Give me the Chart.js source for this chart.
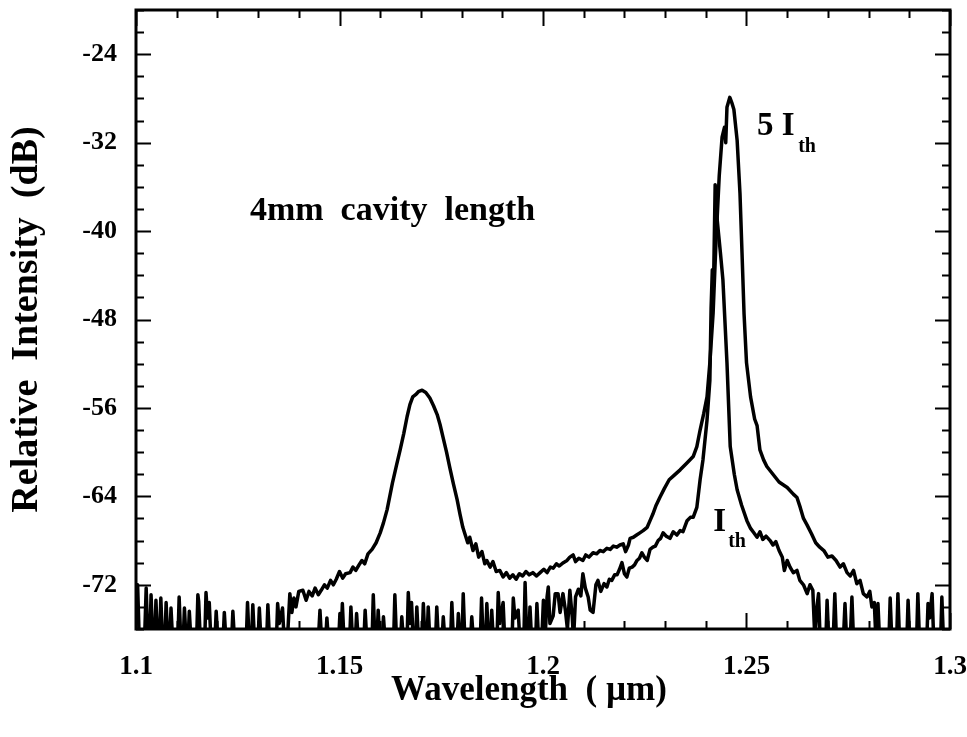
<!DOCTYPE html>
<html>
<head>
<meta charset="utf-8">
<script src="https://cdn.jsdelivr.net/npm/chart.js@4.4.1/dist/chart.umd.min.js"></script>
<style>
  html, body { margin: 0; padding: 0; background: #fff; }
  canvas { display: block; }
</style>
</head>
<body>
<canvas id="spectrum" width="967" height="737"></canvas>
<script>
// spectrum at 5 I_th : [wavelength (um), relative intensity (dB)]
// -77 = below the noise floor (clipped at the axis)
const spec5Ith = [
  [1.1000, -72.0], [1.1004, -72.0], [1.1008, -77], [1.1021, -77], [1.1025, -72.3], [1.1029, -77],
  [1.1034, -77], [1.1037, -72.9], [1.1041, -77], [1.1046, -77], [1.1049, -73.4], [1.1053, -77],
  [1.1058, -77], [1.1061, -73.2], [1.1065, -77], [1.1071, -77], [1.1074, -73.6], [1.1078, -77],
  [1.1083, -77], [1.1086, -74.1], [1.1090, -77], [1.1103, -77], [1.1106, -73.1], [1.1110, -77],
  [1.1116, -77], [1.1119, -74.1], [1.1123, -77], [1.1128, -77], [1.1131, -74.4], [1.1135, -77],
  [1.1149, -77], [1.1152, -72.9], [1.1154, -73.5], [1.1158, -77], [1.1169, -77], [1.1172, -72.7],
  [1.1176, -75.0], [1.1180, -73.6], [1.1184, -77], [1.1194, -77], [1.1197, -74.4], [1.1201, -77],
  [1.1214, -77], [1.1217, -74.5], [1.1221, -77], [1.1235, -77], [1.1238, -74.4], [1.1242, -77],
  [1.1271, -77], [1.1274, -73.6], [1.1278, -77], [1.1284, -77], [1.1287, -73.8], [1.1291, -77],
  [1.1300, -77], [1.1303, -74.1], [1.1307, -77], [1.1321, -77], [1.1324, -73.8], [1.1328, -77],
  [1.1345, -77], [1.1348, -73.7], [1.1352, -75.5], [1.1360, -74.1], [1.1364, -77], [1.1372, -77],
  [1.1378, -72.8], [1.1383, -74.5], [1.1388, -73.2], [1.1393, -74.0], [1.1400, -72.6], [1.1410, -72.5],
  [1.1418, -73.4], [1.1425, -72.6], [1.1433, -73.0], [1.1440, -72.3], [1.1448, -72.9], [1.1455, -72.5],
  [1.1463, -72.0], [1.1470, -72.3], [1.1478, -71.6], [1.1485, -72.0], [1.1492, -71.5], [1.1500, -70.8],
  [1.1508, -71.4], [1.1515, -71.0], [1.1526, -70.9], [1.1533, -70.4], [1.1540, -70.7], [1.1548, -70.2],
  [1.1555, -69.8], [1.1562, -70.1], [1.1570, -69.2], [1.1580, -68.8], [1.1590, -68.2], [1.1600, -67.3],
  [1.1608, -66.4], [1.1617, -65.2], [1.1630, -62.8], [1.1640, -61.2], [1.1649, -59.8], [1.1658, -58.3],
  [1.1666, -56.8], [1.1673, -55.7], [1.1680, -55.0], [1.1687, -54.8], [1.1695, -54.5], [1.1703, -54.4],
  [1.1712, -54.6], [1.1722, -55.1], [1.1731, -55.8], [1.1740, -56.6], [1.1747, -57.5], [1.1754, -58.6],
  [1.1763, -60.0], [1.1771, -61.4], [1.1780, -62.9], [1.1789, -64.3], [1.1796, -65.6], [1.1803, -66.8],
  [1.1809, -67.5], [1.1815, -68.2], [1.1820, -67.7], [1.1828, -68.9], [1.1835, -68.3], [1.1842, -69.5],
  [1.1850, -69.0], [1.1857, -70.1], [1.1862, -69.8], [1.1870, -70.4], [1.1877, -69.9], [1.1885, -70.8],
  [1.1894, -70.7], [1.1902, -71.3], [1.1910, -70.9], [1.1918, -71.4], [1.1926, -71.1], [1.1934, -71.5],
  [1.1942, -71.0], [1.1950, -71.2], [1.1958, -70.8], [1.1966, -71.1], [1.1975, -70.9], [1.1984, -71.2],
  [1.1993, -70.9], [1.2002, -70.6], [1.2010, -70.9], [1.2018, -70.4], [1.2025, -70.5], [1.2033, -70.1],
  [1.2040, -70.3], [1.2050, -70.0], [1.2059, -69.8], [1.2066, -69.5], [1.2074, -69.3], [1.2080, -69.9],
  [1.2088, -69.6], [1.2098, -69.8], [1.2105, -69.3], [1.2113, -69.5], [1.2123, -69.1], [1.2132, -69.2],
  [1.2140, -68.9], [1.2148, -69.0], [1.2157, -68.7], [1.2165, -68.8], [1.2173, -68.5], [1.2181, -68.6],
  [1.2189, -68.4], [1.2197, -68.3], [1.2203, -69.0], [1.2210, -68.4], [1.2214, -67.8], [1.2222, -67.7],
  [1.2230, -67.5], [1.2238, -67.3], [1.2246, -67.1], [1.2256, -66.8], [1.2263, -66.2], [1.2270, -65.6],
  [1.2278, -64.8], [1.2287, -64.1], [1.2298, -63.3], [1.2310, -62.5], [1.2322, -62.1], [1.2337, -61.6],
  [1.2353, -61.0], [1.2369, -60.4], [1.2378, -59.5], [1.2386, -58.0], [1.2395, -56.5], [1.2403, -55.0],
  [1.2410, -51.9], [1.2418, -47.4], [1.2425, -41.0], [1.2433, -35.0], [1.2440, -31.5], [1.2446, -30.6],
  [1.2449, -32.0], [1.2452, -28.8], [1.2459, -27.9], [1.2464, -28.4], [1.2469, -29.0], [1.2477, -31.8],
  [1.2484, -36.6], [1.2489, -42.0], [1.2494, -47.5], [1.2500, -51.9], [1.2510, -55.0], [1.2520, -57.0],
  [1.2526, -57.6], [1.2533, -59.8], [1.2542, -60.7], [1.2550, -61.3], [1.2565, -62.0], [1.2580, -62.7],
  [1.2600, -63.2], [1.2615, -63.8], [1.2624, -64.1], [1.2632, -65.0], [1.2640, -66.0], [1.2649, -66.6],
  [1.2660, -67.4], [1.2670, -68.2], [1.2680, -68.6], [1.2690, -68.9], [1.2700, -69.5], [1.2710, -69.4],
  [1.2720, -69.8], [1.2730, -70.4], [1.2738, -70.1], [1.2747, -70.9], [1.2755, -71.2], [1.2763, -70.7],
  [1.2771, -71.9], [1.2779, -71.6], [1.2787, -72.8], [1.2796, -73.1], [1.2803, -72.6], [1.2808, -74.0],
  [1.2814, -73.6], [1.2818, -77], [1.2823, -73.7], [1.2827, -77], [1.2850, -77], [1.2853, -73.2],
  [1.2857, -77], [1.2869, -77], [1.2872, -72.8], [1.2876, -77], [1.2894, -77], [1.2897, -73.4],
  [1.2901, -77], [1.2918, -77], [1.2921, -72.8], [1.2925, -77], [1.2943, -77], [1.2946, -73.7],
  [1.2950, -75.0], [1.2956, -72.8], [1.2960, -77], [1.2977, -77], [1.2980, -73.1], [1.2984, -77]
];

// spectrum at I_th
const specIth = [
  [1.1000, -77], [1.1448, -77], [1.1452, -74.3], [1.1456, -77], [1.1466, -77], [1.1469, -75.0],
  [1.1473, -77], [1.1498, -77], [1.1501, -74.6], [1.1504, -77], [1.1507, -73.7], [1.1511, -77],
  [1.1525, -77], [1.1528, -74.0], [1.1532, -77], [1.1539, -77], [1.1542, -74.6], [1.1546, -77],
  [1.1560, -77], [1.1563, -74.3], [1.1567, -77], [1.1580, -77], [1.1583, -72.9], [1.1587, -77],
  [1.1592, -77], [1.1595, -74.3], [1.1599, -77], [1.1605, -77], [1.1608, -74.9], [1.1612, -77],
  [1.1633, -77], [1.1636, -72.9], [1.1640, -77], [1.1650, -77], [1.1653, -74.9], [1.1657, -77],
  [1.1666, -77], [1.1669, -72.7], [1.1673, -75.5], [1.1677, -73.6], [1.1681, -77], [1.1687, -77],
  [1.1690, -74.0], [1.1694, -77], [1.1703, -77], [1.1706, -73.7], [1.1710, -77], [1.1715, -77],
  [1.1718, -74.0], [1.1722, -77], [1.1736, -77], [1.1739, -74.0], [1.1743, -77], [1.1752, -77],
  [1.1755, -74.9], [1.1759, -77], [1.1773, -77], [1.1776, -73.6], [1.1780, -77], [1.1789, -77],
  [1.1792, -74.6], [1.1796, -77], [1.1801, -77], [1.1804, -72.8], [1.1808, -77], [1.1822, -77],
  [1.1825, -74.9], [1.1829, -77], [1.1846, -77], [1.1849, -73.2], [1.1853, -77], [1.1859, -77],
  [1.1862, -73.7], [1.1866, -77], [1.1871, -77], [1.1874, -74.3], [1.1878, -77], [1.1887, -77],
  [1.1890, -72.7], [1.1894, -75.5], [1.1902, -73.6], [1.1906, -77], [1.1924, -77], [1.1927, -73.2],
  [1.1931, -75.0], [1.1939, -74.3], [1.1943, -77], [1.1953, -77], [1.1956, -71.8], [1.1960, -77],
  [1.1965, -77], [1.1968, -74.0], [1.1972, -77], [1.1982, -77], [1.1985, -73.7], [1.1989, -77],
  [1.1997, -77], [1.2001, -73.4], [1.2005, -77], [1.2010, -73.1], [1.2013, -72.2], [1.2017, -75.5],
  [1.2025, -74.8], [1.2030, -72.8], [1.2037, -72.8], [1.2042, -74.5], [1.2049, -72.8], [1.2055, -74.3],
  [1.2060, -76.0], [1.2066, -72.5], [1.2072, -75.0], [1.2075, -77], [1.2080, -73.1], [1.2087, -72.4],
  [1.2093, -73.0], [1.2098, -71.0], [1.2104, -72.3], [1.2111, -73.1], [1.2116, -74.3], [1.2123, -74.5],
  [1.2130, -72.0], [1.2135, -71.6], [1.2142, -72.6], [1.2150, -71.9], [1.2157, -72.2], [1.2163, -71.5],
  [1.2169, -71.6], [1.2176, -71.1], [1.2182, -71.1], [1.2188, -70.6], [1.2194, -70.0], [1.2200, -71.0],
  [1.2206, -71.3], [1.2212, -70.5], [1.2219, -70.4], [1.2225, -70.2], [1.2231, -69.8], [1.2237, -69.6],
  [1.2243, -69.1], [1.2249, -69.5], [1.2256, -69.8], [1.2263, -68.8], [1.2270, -68.6], [1.2276, -68.5],
  [1.2283, -68.0], [1.2289, -67.8], [1.2295, -67.3], [1.2303, -67.6], [1.2312, -67.8], [1.2320, -67.2],
  [1.2329, -67.5], [1.2337, -67.1], [1.2344, -67.2], [1.2354, -66.2], [1.2362, -65.9], [1.2369, -65.9],
  [1.2378, -65.0], [1.2386, -62.5], [1.2393, -60.7], [1.2403, -57.1], [1.2410, -53.5], [1.2413, -47.0],
  [1.2416, -43.5], [1.2419, -45.0], [1.2423, -35.8], [1.2428, -39.0], [1.2436, -42.0], [1.2442, -44.4],
  [1.2452, -51.9], [1.2460, -59.5], [1.2470, -62.0], [1.2477, -63.4], [1.2488, -64.8], [1.2501, -66.2],
  [1.2510, -66.9], [1.2518, -67.3], [1.2526, -67.7], [1.2533, -67.2], [1.2540, -67.9], [1.2548, -67.6],
  [1.2558, -68.0], [1.2565, -68.4], [1.2572, -68.1], [1.2580, -68.9], [1.2588, -69.5], [1.2593, -70.7],
  [1.2600, -69.8], [1.2607, -70.4], [1.2615, -70.9], [1.2624, -70.7], [1.2631, -71.6], [1.2640, -72.0],
  [1.2649, -72.8], [1.2656, -72.0], [1.2663, -72.5], [1.2668, -77], [1.2673, -74.0], [1.2677, -72.8],
  [1.2681, -77], [1.2695, -77], [1.2698, -73.4], [1.2702, -77], [1.2713, -77], [1.2717, -72.8],
  [1.2721, -77], [1.2738, -77], [1.2742, -73.7], [1.2746, -77], [1.2755, -77], [1.2759, -73.1],
  [1.2763, -77], [1.2780, -77]
];

const xTicks = [1.1, 1.15, 1.2, 1.25, 1.3];
const xTickLabels = ['1.1', '1.15', '1.2', '1.25', '1.3'];
const yTicks = [-72, -64, -56, -48, -40, -32, -24];
const yTickLabels = ['-72', '-64', '-56', '-48', '-40', '-32', '-24'];

const SERIF = '"Liberation Serif", "Times New Roman", serif';

// frame + inward ticks on all four sides, then the text labels in the plot
const framePlugin = {
    id: 'frame',
    afterDatasetsDraw(chart) {
        const {ctx, chartArea: a, scales: {x, y}} = chart;
        ctx.save();
        ctx.strokeStyle = '#000';
        ctx.lineWidth = 2;
        ctx.beginPath();
        for (let k = -76; k <= -20; k += 2) {
            const py = Math.round(y.getPixelForValue(k)) + 0.5;
            const len = yTicks.includes(k) ? 15 : 8;
            ctx.moveTo(a.left, py); ctx.lineTo(a.left + len, py);
            ctx.moveTo(a.right, py); ctx.lineTo(a.right - len, py);
        }
        for (let i = 0; i <= 20; i++) {
            const px = Math.round(x.getPixelForValue(1.1 + i * 0.01)) + 0.5;
            const len = i % 5 === 0 ? 16 : 8;
            ctx.moveTo(px, a.bottom); ctx.lineTo(px, a.bottom - len);
            ctx.moveTo(px, a.top); ctx.lineTo(px, a.top + len);
        }
        ctx.stroke();
        ctx.lineWidth = 3;
        ctx.strokeRect(a.left, a.top, a.right - a.left, a.bottom - a.top);

        ctx.fillStyle = '#000';
        ctx.textBaseline = 'alphabetic';
        ctx.textAlign = 'left';
        ctx.font = 'bold 34px ' + SERIF;
        ctx.fillText('4mm  cavity  length', x.getPixelForValue(1.128), y.getPixelForValue(-39.0));
        ctx.font = 'bold 33px ' + SERIF;
        ctx.fillText('5 I', x.getPixelForValue(1.2526), y.getPixelForValue(-31.3));
        ctx.fillText('I', x.getPixelForValue(1.2418), y.getPixelForValue(-67.1));
        ctx.font = 'bold 20px ' + SERIF;
        ctx.fillText('th', x.getPixelForValue(1.2627), y.getPixelForValue(-32.85));
        ctx.fillText('th', x.getPixelForValue(1.2455), y.getPixelForValue(-68.6));

        // x axis title
        ctx.font = 'bold 35px ' + SERIF;
        ctx.textAlign = 'center';
        ctx.fillText('Wavelength  ( µm)', 529, 700);
        ctx.restore();
    }
};

const lineStyle = {
    borderColor: '#000',
    borderWidth: 3.5,
    pointRadius: 0,
    tension: 0,
    borderJoinStyle: 'round',
    borderCapStyle: 'round',
    fill: false
};

new Chart(document.getElementById('spectrum'), {
    type: 'line',
    data: {
        datasets: [
            {label: '5 I_th', data: spec5Ith.map(([x, y]) => ({x, y})), ...lineStyle},
            {label: 'I_th', data: specIth.map(([x, y]) => ({x, y})), ...lineStyle}
        ]
    },
    options: {
        responsive: false,
        animation: false,
        layout: {padding: {top: 10, right: 17, bottom: 0, left: 0}},
        plugins: {legend: {display: false}, tooltip: {enabled: false}},
        scales: {
            x: {
                type: 'linear', min: 1.1, max: 1.3,
                afterBuildTicks: s => { s.ticks = xTicks.map(v => ({value: v})); },
                afterFit: s => { s.height = 108; s.paddingLeft = 0; s.paddingRight = 0; },
                grid: {display: false, drawTicks: false},
                border: {display: false},
                ticks: {
                    padding: 22, color: '#000', maxRotation: 0,
                    font: {family: SERIF, size: 27, weight: 'bold'},
                    callback: (v, i) => xTickLabels[i]
                }
            },
            y: {
                type: 'linear', min: -76, max: -20,
                afterBuildTicks: s => { s.ticks = yTicks.map(v => ({value: v})); },
                afterFit: s => { s.width = 136; s.paddingTop = 0; s.paddingBottom = 0; },
                grid: {display: false, drawTicks: false},
                border: {display: false},
                ticks: {
                    padding: 19, color: '#000',
                    font: {family: SERIF, size: 26, weight: 'bold'},
                    callback: (v, i) => yTickLabels[i]
                },
                title: {
                    display: true, text: 'Relative  Intensity  (dB)', color: '#000',
                    font: {family: SERIF, size: 38, weight: 'bold'},
                    padding: {top: 4, bottom: 0}
                }
            }
        }
    },
    plugins: [framePlugin]
});
</script>
</body>
</html>
